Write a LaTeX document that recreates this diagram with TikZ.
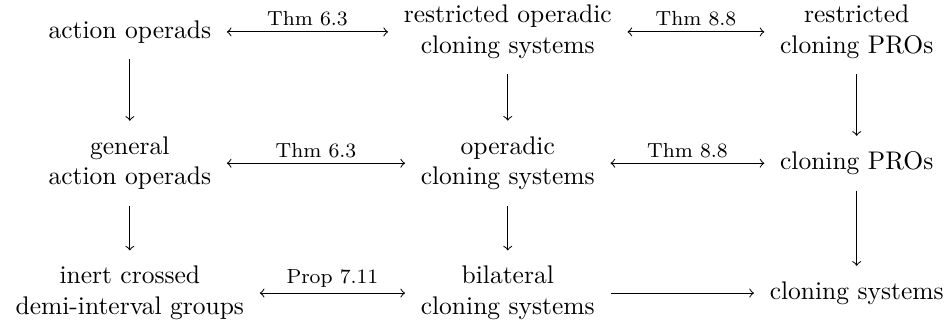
\documentclass[tikz,border=0pt]{standalone}
\usetikzlibrary{arrows,positioning}
\tikzset{
    %Define standard arrow tip
    >=to,
    %Define style for objects
    obj/.style={
           align=center,
           inner sep=3pt},
    %Define style for arrow labels
    lbl/.style={
           font=\footnotesize,
           above,
           inner sep=2pt},
    % Define arrow styles
    imply/.style={
           ->,
           shorten <=3pt,
           shorten >=3pt,},
    both/.style={
           <->,
           shorten <=3pt,
           shorten >=3pt,},
}
\begin{document}
\begin{tikzpicture}
 \useasboundingbox (0,0) rectangle (13.11,-4.45);
 %nodes
 \node[obj] (act) at (1.79,-0.44) {action operads};
 \node[obj] (rocs) at (7.00,-0.44) {restricted operadic\\cloning systems};
 \node[obj] (rpro) at (11.81,-0.44) {restricted\\cloning PROs};
 \node[obj] (gact) at (1.79,-2.25) {general\\action operads};
 \node[obj] (ocs) at (7.00,-2.25) {operadic\\cloning systems};
 \node[obj] (pro) at (11.81,-2.25) {cloning PROs};
 \node[obj] (icdg) at (1.79,-4.04) {inert crossed\\demi-interval groups};
 \node[obj] (bcs) at (7.00,-4.04) {bilateral\\cloning systems};
 \node[obj] (cs) at (11.81,-4.04) {cloning systems};
 %edges
 \draw[both] (act) to node[lbl] {Thm 6.3} (rocs);
 \draw[both] (rocs) to node[lbl] {Thm 8.8} (rpro);
 \draw[both] (gact) to node[lbl] {Thm 6.3} (ocs);
 \draw[both] (ocs) to node[lbl] {Thm 8.8} (pro);
 \draw[both] (icdg) to node[lbl] {Prop 7.11} (bcs);
 \draw[imply] (bcs) to (cs);
 \draw[imply] (act) to (gact);
 \draw[imply] (gact) to (icdg);
 \draw[imply] (rocs) to (ocs);
 \draw[imply] (ocs) to (bcs);
 \draw[imply] (rpro) to (pro);
 \draw[imply] (pro) to (cs);
\end{tikzpicture}
\end{document}
